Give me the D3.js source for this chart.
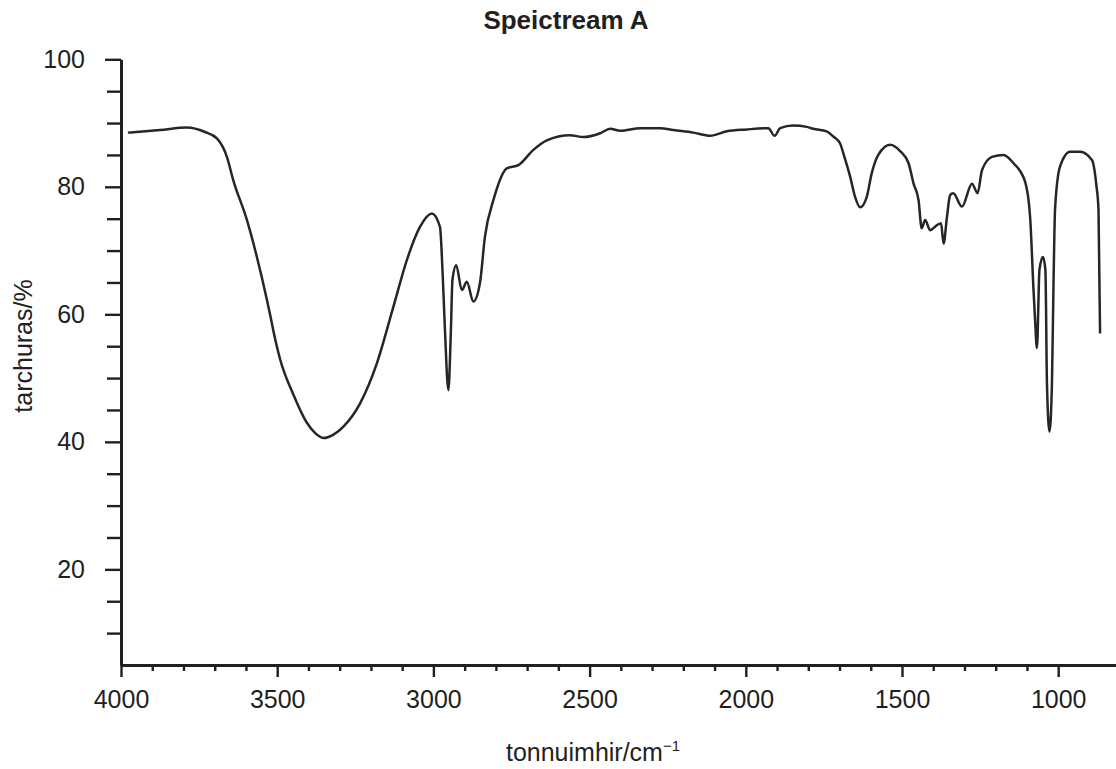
<!DOCTYPE html>
<html>
<head>
<meta charset="utf-8">
<script src="https://cdn.jsdelivr.net/npm/d3@7"></script>
<style>
  html, body { margin: 0; padding: 0; background: #fff; }
  svg { display: block; font-family: "Liberation Sans", Arial, sans-serif; }
</style>
</head>
<body>
<svg id="chart" width="1116" height="769"></svg>
<script>
const chartTitle = "Speictream A";
const xTitle = "tonnuimhir/cm";
const yTitle = "tarchuras/%";

const xMajorTicks = [4000, 3500, 3000, 2500, 2000, 1500, 1000];
const yMajorTicks = [20, 40, 60, 80, 100];

const wavenumber = [3978,3875,3789,3731,3693,3661,3641,3597,3565,3533,3523,3507,3491,3448,3405,3379,3352,3321,3288,3235,3181,3128,3085,3043,3005,2979,2970,2963,2952,2944,2939,2927,2909,2893,2872,2851,2835,2808,2765,2728,2680,2637,2563,2520,2466,2434,2402,2338,2274,2232,2168,2114,2061,1997,1928,1908,1890,1848,1805,1784,1741,1720,1698,1688,1666,1650,1634,1613,1597,1576,1538,1506,1479,1463,1447,1437,1426,1410,1388,1375,1367,1356,1346,1336,1308,1276,1258,1244,1212,1175,1143,1106,1090,1079,1074,1068,1060,1049,1041,1036,1028,1020,1015,1010,994,962,930,892,878,871,866];
const transmittance = [88.5,88.9,89.3,88.6,87.6,84.7,81.1,74.8,69.0,62.3,60.0,56.2,53.0,47.4,43.0,41.4,40.6,41.1,42.4,46.0,52.3,61.2,68.5,73.7,75.8,73.7,65.9,57.5,48.1,57.5,65.4,67.7,63.8,65.1,62.0,64.9,72.2,77.9,82.9,83.4,85.8,87.3,88.1,87.8,88.4,89.1,88.8,89.2,89.2,88.9,88.5,88.0,88.7,89.0,89.2,88.0,89.2,89.6,89.4,89.1,88.7,87.9,86.8,85.3,81.6,78.4,76.8,78.4,82.1,85.0,86.6,85.6,83.7,80.5,77.9,73.5,74.8,73.2,74.0,74.3,71.1,75.3,78.7,79.0,76.9,80.5,79.0,82.6,84.7,85.0,83.7,80.8,75.3,63.8,59.1,54.7,67.0,69.0,67.0,49.2,41.6,49.2,64.9,76.6,83.2,85.5,85.5,84.2,80.3,76.4,57.0];

const svg = d3.select("#chart");
const ink = "#231f20";

const x = d3.scaleLinear().domain([4000, 815]).range([121, 1116]);
const y = d3.scaleLinear().domain([5, 100]).range([665, 59.3]);

const xMinor = d3.range(4000, 999, -100).filter(v => !xMajorTicks.includes(v));
const yMinor = d3.range(10, 100, 5).filter(v => !yMajorTicks.includes(v));

// minor ticks
svg.append("g").attr("transform", "translate(0,665)")
  .call(d3.axisBottom(x).tickValues(xMinor).tickSize(6).tickSizeOuter(0).tickFormat(""))
  .call(g => g.select(".domain").remove())
  .call(g => g.selectAll("line").attr("stroke", ink).attr("stroke-width", 2.4));
svg.append("g").attr("transform", "translate(121,0)")
  .call(d3.axisLeft(y).tickValues(yMinor).tickSize(14).tickSizeOuter(0).tickFormat(""))
  .call(g => g.select(".domain").remove())
  .call(g => g.selectAll("line").attr("stroke", ink).attr("stroke-width", 2.4));

// major axes
svg.append("g").attr("transform", "translate(0,665)")
  .call(d3.axisBottom(x).tickValues(xMajorTicks).tickSize(12).tickSizeOuter(0).tickPadding(13).tickFormat(d3.format("d")))
  .call(g => g.select(".domain").attr("stroke", ink).attr("stroke-width", 3))
  .call(g => g.selectAll("line").attr("stroke", ink).attr("stroke-width", 2.4))
  .call(g => g.selectAll("text").attr("fill", ink).attr("font-size", 25)
    .attr("font-family", "'Liberation Sans', Arial, sans-serif"));

svg.append("g").attr("transform", "translate(121,0)")
  .call(d3.axisLeft(y).tickValues(yMajorTicks).tickSize(16).tickSizeOuter(0).tickPadding(20).tickFormat(d3.format("d")))
  .call(g => g.select(".domain").attr("stroke", ink).attr("stroke-width", 3))
  .call(g => g.selectAll("line").attr("stroke", ink).attr("stroke-width", 2.4))
  .call(g => g.selectAll("text").attr("fill", ink).attr("font-size", 25)
    .attr("font-family", "'Liberation Sans', Arial, sans-serif"));

// spectrum
const pts = wavenumber.map((w, i) => [w, transmittance[i]]);
svg.append("path")
  .datum(pts)
  .attr("fill", "none")
  .attr("stroke", "#262626")
  .attr("stroke-width", 2.5)
  .attr("stroke-linejoin", "round")
  .attr("d", d3.line().curve(d3.curveMonotoneX).x(d => x(d[0])).y(d => y(d[1])));

// titles
svg.append("text")
  .attr("x", 566).attr("y", 29)
  .attr("text-anchor", "middle")
  .attr("font-size", 26).attr("font-weight", "bold").attr("fill", ink)
  .text(chartTitle);

const xt = svg.append("text")
  .attr("x", 593).attr("y", 761)
  .attr("text-anchor", "middle")
  .attr("font-size", 25).attr("fill", ink);
xt.append("tspan").text(xTitle);
xt.append("tspan").attr("font-size", 15).attr("dy", -10).text("\u22121");

svg.append("text")
  .attr("transform", "translate(32,346) rotate(-90)")
  .attr("text-anchor", "middle")
  .attr("font-size", 25).attr("fill", ink)
  .text(yTitle);
</script>
</body>
</html>
